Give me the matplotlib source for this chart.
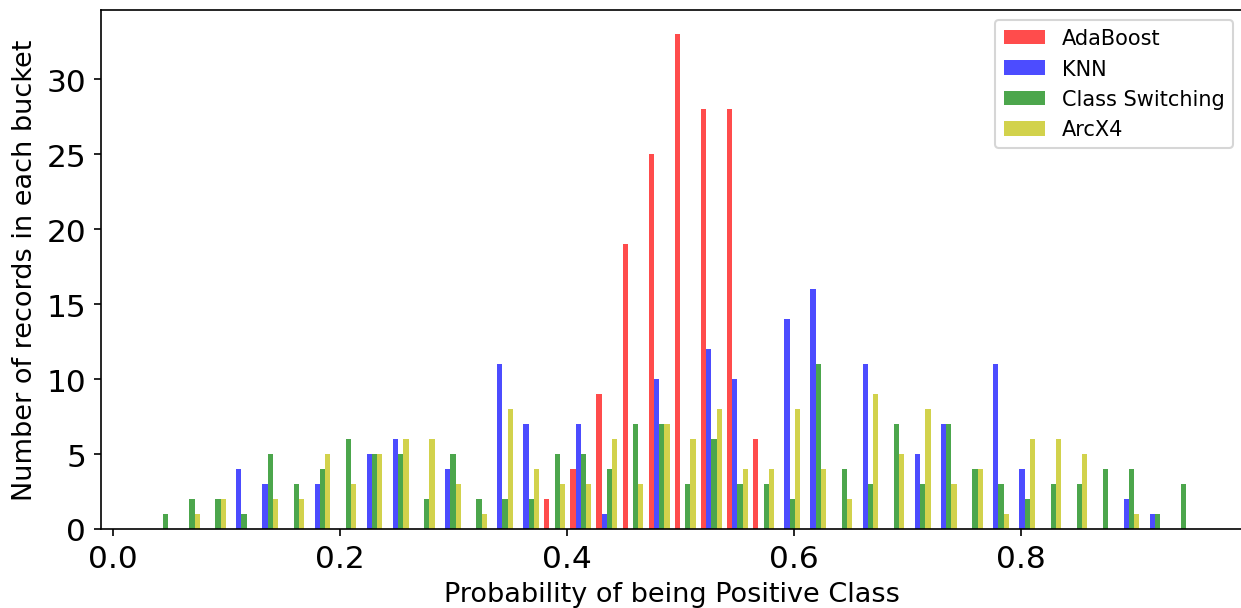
import numpy as np
import matplotlib
matplotlib.use('Agg')
import matplotlib.pyplot as plt

series_labels = ['AdaBoost', 'KNN', 'Class Switching', 'ArcX4']
series_colors = ['r', 'b', 'g', 'y']

# histogram bucket range (min / max probability) and number of buckets
hist_min, hist_max, n_bins = 0.0329, 0.9527, 40

# counts per bucket (40 buckets)
adaboost = [0] * 15 + [2, 4, 9, 19, 25, 33, 28, 28, 6] + [0] * 16
knn = [0, 0, 0, 4, 3, 0, 3, 0, 5, 6,
       0, 4, 0, 11, 7, 0, 7, 1, 0, 10,
       0, 12, 10, 0, 14, 16, 0, 11, 0, 5,
       7, 0, 11, 4, 0, 0, 0, 2, 1, 0]
class_switching = [1, 2, 2, 1, 5, 3, 4, 6, 5, 5,
                   2, 5, 2, 2, 2, 5, 5, 4, 7, 7,
                   3, 6, 3, 3, 2, 11, 4, 3, 7, 3,
                   7, 4, 3, 2, 3, 3, 4, 4, 1, 3]
arcx4 = [0, 1, 2, 0, 2, 2, 5, 3, 5, 6,
         6, 3, 1, 8, 4, 3, 3, 6, 3, 7,
         6, 8, 4, 4, 8, 4, 2, 9, 5, 8,
         3, 4, 1, 6, 6, 5, 0, 1, 0, 0]

edges = np.linspace(hist_min, hist_max, n_bins + 1)
centers = (edges[:-1] + edges[1:]) / 2
counts = [adaboost, knn, class_switching, arcx4]

W, H = 1241, 609
DPI = 150
fig = plt.figure(figsize=(W / DPI, H / DPI), dpi=DPI)
ax = fig.add_axes([100.8 / W, 79 / H, 1142.7 / W, 519.5 / H])

ax.hist([centers] * 4, bins=edges, weights=counts, color=series_colors,
        alpha=0.7, label=series_labels)

ax.set_xlabel('Probability of being Positive Class', fontsize=13)
ax.set_ylabel('Number of records in each bucket', fontsize=13)
ax.tick_params(axis='both', labelsize=15)
ax.legend(loc='upper right', fontsize=10)

fig.savefig('out.png', dpi=DPI)
